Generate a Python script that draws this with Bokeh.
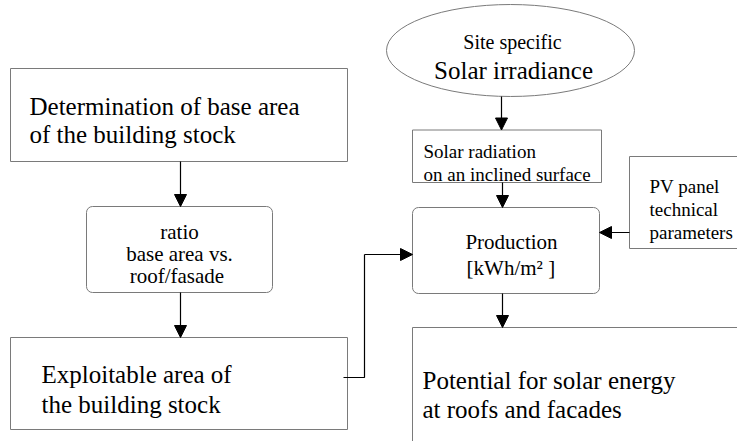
from bokeh.plotting import figure
from bokeh.models import Range1d, Arrow, NormalHead, ColumnDataSource
from bokeh.core.properties import value
from bokeh.embed import file_html
from bokeh.resources import INLINE

FONT = "Liberation Serif"

# ---- nodes of the flow chart (diagram pixel coordinates, y grows downward)
sq_left   = [10, 10, 412, 629, 412]
sq_right  = [347, 347, 601, 780, 780]
sq_top    = [68, 337, 129.5, 156, 327]
sq_bottom = [161, 429, 182, 248, 480]

rd_left   = [86, 412]
rd_right  = [272, 599]
rd_top    = [206, 207]
rd_bottom = [292, 293]

ell_x, ell_y, ell_w, ell_h = [510], [50], [248], [92]

# ---- text lines
txt   = ["Determination of base area", "of the building stock",
         "ratio", "base area vs.", " roof/fasade",
         "Exploitable area of", "the building stock",
         "Site specific", "Solar irradiance",
         "Solar radiation", "on an inclined surface",
         "Production", "[kWh/m\u00b2  ]",
         "PV panel", "technical", "parameters",
         "Potential for solar energy", " at roofs and facades"]
txt_x = [29, 29, 179, 179, 179, 41, 41, 512, 513, 423, 423, 511, 513,
         649, 649, 649, 422, 422]
txt_y = [106, 134, 231, 253, 275, 374, 404, 41, 70, 151, 174, 241, 267,
         186, 209, 232, 380, 409]
txt_size = ["25px", "25px", "21px", "21px", "21px", "25px", "25px",
            "20px", "25px", "19px", "19px", "21px", "21px",
            "19px", "19px", "19px", "25px", "25px"]
txt_align = ["left", "left", "center", "center", "center", "left", "left",
             "center", "center", "left", "left", "center", "center",
             "left", "left", "left", "left", "left"]

# ---- arrows (start -> end)
arr_x0 = [180, 180, 501, 502, 629, 502, 364]
arr_y0 = [161, 292, 96, 182, 232, 293, 254]
arr_x1 = [180, 180, 501, 502, 599, 502, 412]
arr_y1 = [206, 337, 129.5, 207, 232, 327, 254]

# connector from "Exploitable area" to "Production"
con_x = [343, 364, 364]
con_y = [377, 377, 254]

p = figure(width=737, height=441, x_range=Range1d(0, 737), y_range=Range1d(441, 0),
           output_backend="svg", toolbar_location=None, min_border=0,
           x_axis_location=None, y_axis_location=None)
p.grid.visible = False
p.outline_line_color = None
p.background_fill_color = "white"

BOX_COL = "#7a7a7a"

p.quad(left=sq_left, right=sq_right, top=sq_top, bottom=sq_bottom,
       fill_color="white", line_color=BOX_COL, line_width=1)
p.quad(left=rd_left, right=rd_right, top=rd_top, bottom=rd_bottom,
       fill_color="white", line_color=BOX_COL, line_width=1, border_radius=6)
p.ellipse(x=ell_x, y=ell_y, width=ell_w, height=ell_h,
          fill_color="white", line_color=BOX_COL, line_width=1)

p.line(x=con_x, y=con_y, line_color="black", line_width=1.2)

asrc = ColumnDataSource(dict(x0=arr_x0, y0=arr_y0, x1=arr_x1, y1=arr_y1))
p.add_layout(Arrow(source=asrc, x_start="x0", y_start="y0", x_end="x1", y_end="y1",
                   line_color="black", line_width=1.2,
                   end=NormalHead(size=12, fill_color="black", line_color="black")))

tsrc = ColumnDataSource(dict(x=txt_x, y=txt_y, t=txt, s=txt_size, a=txt_align))
p.text(x="x", y="y", text="t", source=tsrc, text_font=value(FONT),
       text_font_size="s", text_align="a", text_baseline="alphabetic",
       text_color="#000000")

open("out.html", "w").write(file_html(p, INLINE))
